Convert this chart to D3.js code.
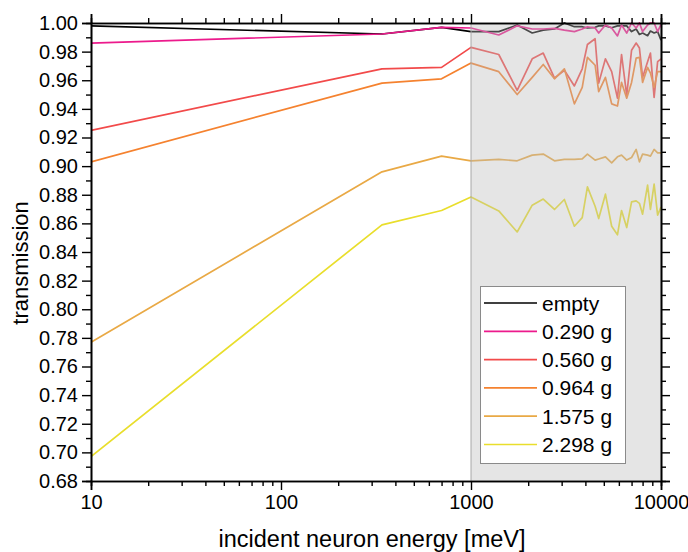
<!DOCTYPE html>
<html>
<head>
<meta charset="utf-8">
<script src="https://cdn.jsdelivr.net/npm/d3@7"></script>
<style>
  html, body { margin: 0; padding: 0; background: #ffffff; }
  svg { display: block; font-family: "Liberation Sans", Arial, sans-serif; }
</style>
</head>
<body>
<svg id="chart" width="688" height="552"></svg>
<script>
// Incident neutron energies (meV) at which transmission was measured
const energies = [10, 340, 700, 1000, 1400, 1750, 2100, 2400, 2750, 3100, 3500, 3850, 4100, 4500,
  4700, 5100, 5500, 5900, 6200, 6600, 7000, 7400, 7700, 8000, 8500, 8800, 9200, 9600, 10000];

const seriesNames = ["empty", "0.290 g", "0.560 g", "0.964 g", "1.575 g", "2.298 g"];
const seriesColors = ["#000000", "#ec1a8c", "#f24a4a", "#f5822f", "#e9a945", "#e9de2c"];

const tEmpty = [0.998, 0.9923, 0.997, 0.994, 0.994, 0.9986, 0.993, 0.995, 0.9958, 1.000, 0.9974, 0.9974, 0.9965, 0.997,
  0.998, 0.998, 0.9967, 0.998, 0.998, 0.998, 0.994, 0.9958, 0.992, 0.993, 0.9911, 0.9944, 0.993, 0.994, 0.988];
const t0290 = [0.986, 0.9923, 0.997, 0.9965, 0.9916, 0.998, 0.9958, 0.9958, 0.9963, 0.995, 0.994, 0.9958, 0.9974, 0.9965,
  0.993, 0.9986, 0.9965, 0.991, 0.9986, 0.993, 1.000, 0.9965, 1.000, 0.994, 0.9986, 1.000, 1.000, 0.994, 0.999];
const t0560 = [0.925, 0.968, 0.969, 0.983, 0.978, 0.953, 0.975, 0.979, 0.9615, 0.967, 0.956, 0.968, 0.985, 0.989,
  0.958, 0.975, 0.966, 0.9475, 0.978, 0.9495, 0.981, 0.986, 0.9825, 0.962, 0.973, 0.979, 0.948, 0.973, 0.975];
const t0964 = [0.903, 0.958, 0.961, 0.972, 0.966, 0.950, 0.962, 0.971, 0.961, 0.968, 0.9435, 0.955, 0.976, 0.9705,
  0.952, 0.962, 0.9435, 0.942, 0.9585, 0.9475, 0.9585, 0.9755, 0.976, 0.9585, 0.969, 0.965, 0.955, 0.966, 0.966];
const t1575 = [0.777, 0.896, 0.907, 0.9037, 0.9047, 0.9037, 0.9077, 0.9084, 0.9037, 0.9047, 0.9047, 0.905, 0.9084, 0.9042,
  0.905, 0.9065, 0.9023, 0.9065, 0.9077, 0.9042, 0.906, 0.9117, 0.903, 0.9084, 0.9077, 0.907, 0.9117, 0.9093, 0.9093];
const t2298 = [0.697, 0.859, 0.869, 0.8785, 0.8687, 0.854, 0.8727, 0.877, 0.8697, 0.8767, 0.858, 0.864, 0.8855, 0.872,
  0.8634, 0.8804, 0.858, 0.852, 0.869, 0.8571, 0.875, 0.8757, 0.874, 0.8664, 0.8867, 0.8697, 0.8874, 0.8657, 0.8715];

const seriesValues = [tEmpty, t0290, t0560, t0964, t1575, t2298];

const xTickValues = [10, 100, 1000, 10000];
const xTickLabels = ["10", "100", "1000", "10000"];
const yTickValues = d3.range(0, 17).map(i => +(0.68 + i * 0.02).toFixed(2));
const yTickLabels = yTickValues.map(v => v.toFixed(2));
const shadeFrom = 1000;

const svg = d3.select("#chart");
const plotLeft = 91, plotRight = 661, plotTop = 23, plotBottom = 481;

const x = d3.scaleLog().domain([10, 10000]).range([plotLeft, plotRight]);
const y = d3.scaleLinear().domain([0.68, 1.0]).range([plotBottom, plotTop]);

svg.append("defs").append("clipPath").attr("id", "plotClip")
  .append("rect").attr("x", plotLeft).attr("y", plotTop - 1)
  .attr("width", plotRight - plotLeft).attr("height", plotBottom - plotTop + 1);

// Data lines
const line = d3.line().x(d => x(d[0])).y(d => y(d[1]));
const plot = svg.append("g").attr("clip-path", "url(#plotClip)");
seriesValues.forEach((vals, i) => {
  plot.append("path")
    .datum(energies.map((e, k) => [e, vals[k]]))
    .attr("d", line)
    .attr("fill", "none")
    .attr("stroke", seriesColors[i])
    .attr("stroke-width", 1.7)
    .attr("stroke-linejoin", "round");
});

// Translucent shading over the high-energy range
svg.append("rect")
  .attr("x", x(shadeFrom)).attr("y", plotTop)
  .attr("width", x(10000) - x(shadeFrom)).attr("height", plotBottom - plotTop)
  .attr("fill", "rgb(189,189,189)").attr("fill-opacity", 0.39);
svg.append("line")
  .attr("x1", x(shadeFrom)).attr("x2", x(shadeFrom))
  .attr("y1", plotTop).attr("y2", plotBottom)
  .attr("stroke", "#a8a8a8").attr("stroke-width", 1);

// Legend
const lg = svg.append("g");
lg.append("rect").attr("x", 480.5).attr("y", 286.5).attr("width", 145).attr("height", 177)
  .attr("fill", "#ffffff").attr("stroke", "#8a8a8a").attr("stroke-width", 1);
seriesNames.forEach((name, i) => {
  const cy = 303 + i * 28.3;
  lg.append("line").attr("x1", 484).attr("x2", 537).attr("y1", cy).attr("y2", cy)
    .attr("stroke", seriesColors[i]).attr("stroke-width", 1.7);
  lg.append("text").attr("x", 542).attr("y", cy).attr("dy", "0.36em")
    .attr("font-size", 21).attr("fill", "#000").text(name);
});

// Axes: outward ticks on all four sides, labels on left and bottom
const minorX = [];
[10, 100, 1000].forEach(d => { for (let m = 2; m <= 9; m++) minorX.push(d * m); });
const minorY = d3.range(0, 16).map(i => +(0.69 + i * 0.02).toFixed(2));

const axStroke = "#000";
const xBottom = d3.axisBottom(x).tickValues(xTickValues).tickFormat((d, i) => xTickLabels[i]).tickSize(9).tickPadding(5);
const xBottomMinor = d3.axisBottom(x).tickValues(minorX).tickFormat("").tickSize(5);
const xTopAx = d3.axisTop(x).tickValues(xTickValues).tickFormat("").tickSize(9);
const xTopMinor = d3.axisTop(x).tickValues(minorX).tickFormat("").tickSize(5);
const yLeft = d3.axisLeft(y).tickValues(yTickValues).tickFormat((d, i) => yTickLabels[i]).tickSize(9).tickPadding(4);
const yLeftMinor = d3.axisLeft(y).tickValues(minorY).tickFormat("").tickSize(5);
const yRight = d3.axisRight(y).tickValues(yTickValues).tickFormat("").tickSize(9);
const yRightMinor = d3.axisRight(y).tickValues(minorY).tickFormat("").tickSize(5);

function styleAxis(g) {
  g.selectAll("path").attr("stroke", axStroke).attr("stroke-width", 1.6);
  g.selectAll("line").attr("stroke", axStroke).attr("stroke-width", 1.4);
  g.selectAll("text").attr("fill", "#000").attr("font-size", 20)
    .attr("font-family", "'Liberation Sans', Arial, sans-serif");
}

[[xBottom, `translate(0,${plotBottom})`], [xBottomMinor, `translate(0,${plotBottom})`],
 [xTopAx, `translate(0,${plotTop})`], [xTopMinor, `translate(0,${plotTop})`],
 [yLeft, `translate(${plotLeft},0)`], [yLeftMinor, `translate(${plotLeft},0)`],
 [yRight, `translate(${plotRight},0)`], [yRightMinor, `translate(${plotRight},0)`]].forEach(([ax, tr]) => {
  svg.append("g").attr("transform", tr).call(ax).call(styleAxis);
});

// Axis titles
svg.append("text").attr("x", 372).attr("y", 547)
  .attr("text-anchor", "middle").attr("font-size", 23.5).attr("fill", "#000")
  .text("incident neuron energy [meV]");
svg.append("text").attr("transform", `translate(28,263) rotate(-90)`)
  .attr("text-anchor", "middle").attr("font-size", 22).attr("fill", "#000")
  .text("transmission");
</script>
</body>
</html>
